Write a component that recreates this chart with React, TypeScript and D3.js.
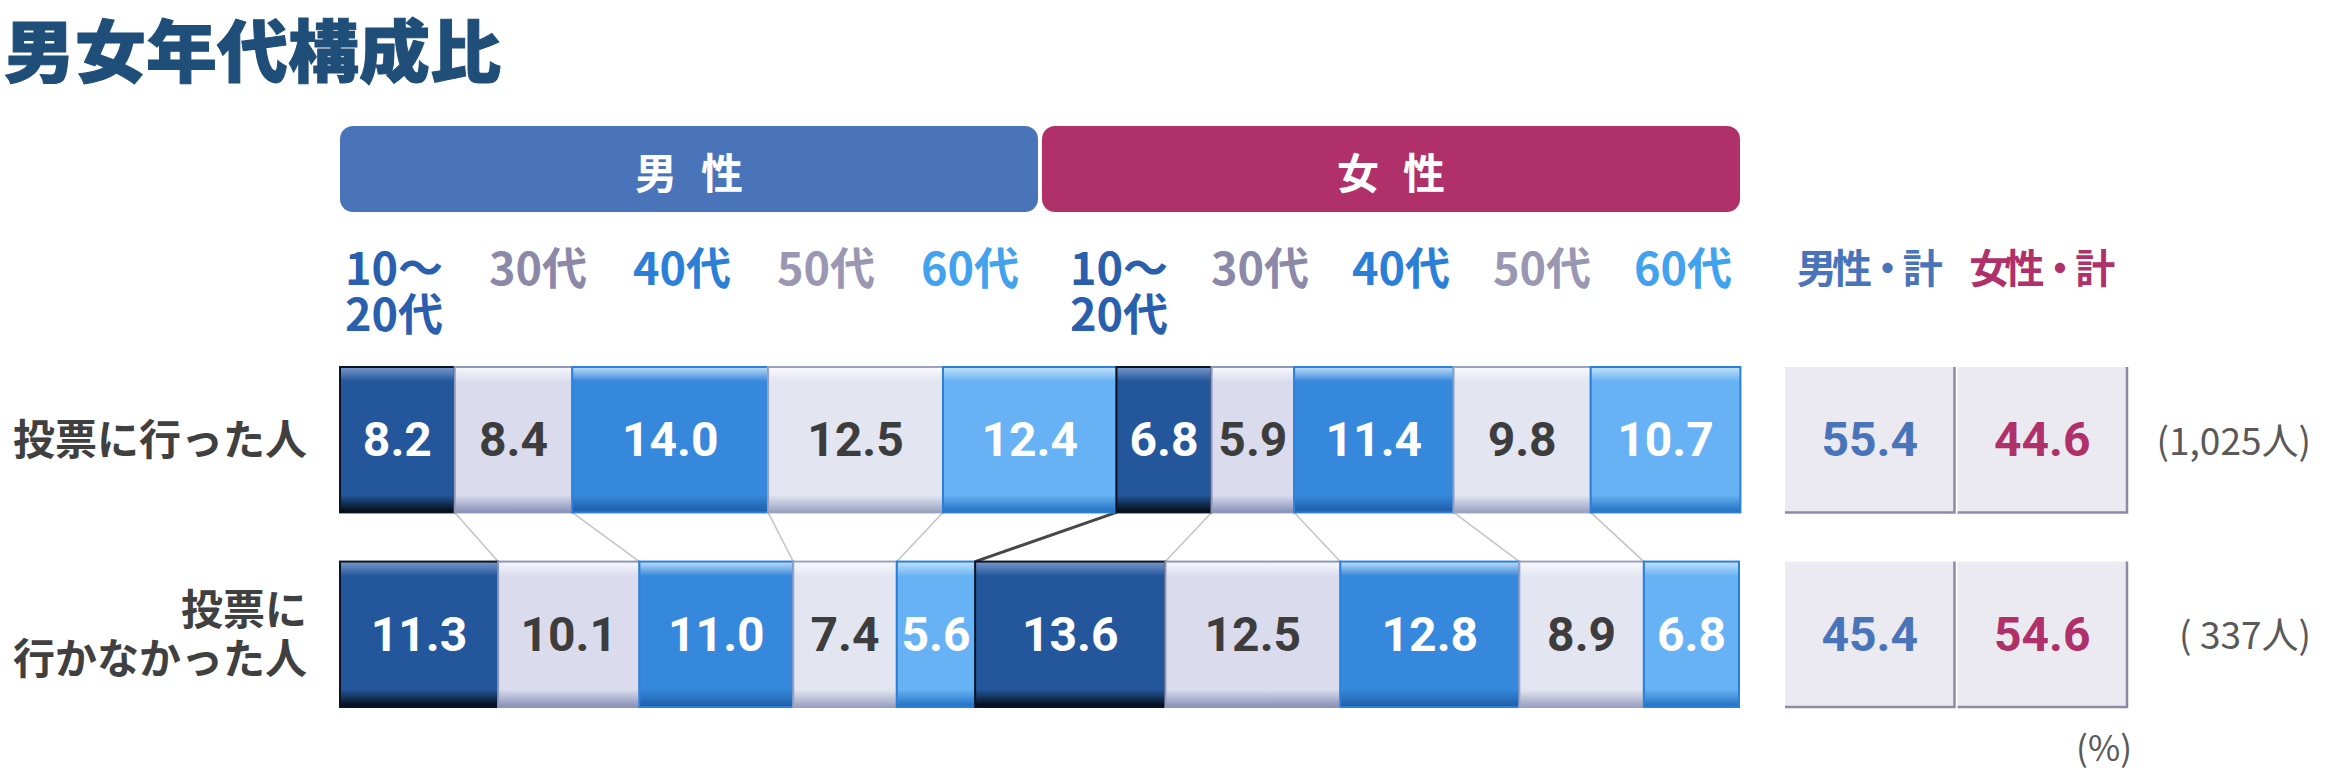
import * as React from 'react';
import * as d3 from 'd3';

// 男女年代構成比 — stacked share of voters / non-voters by sex and age

const title = '男女年代構成比';
const genders = ['男性', '女性'];
const genderHeaders = ['男性', '女性'];
const ageGroups = ['10～20代', '30代', '40代', '50代', '60代'];
const ageLabelLines = [['10～', '20代'], ['30代'], ['40代'], ['50代'], ['60代']];
const rowNames = ['投票に行った人', '投票に行かなかった人'];
const rowLabelLines = [['投票に行った人'], ['投票に', '行かなかった人']];

// male 10-20, 30, 40, 50, 60, then female 10-20 ... 60
const voted = [8.2, 8.4, 14.0, 12.5, 12.4, 6.8, 5.9, 11.4, 9.8, 10.7];
const notVoted = [11.3, 10.1, 11.0, 7.4, 5.6, 13.6, 12.5, 12.8, 8.9, 6.8];

const maleTotals = [55.4, 45.4];
const femaleTotals = [44.6, 54.6];
const respondents = ['(1,025人)', '( 337人)'];
const unitLabel = '(%)';

const JP = '"Noto Sans CJK JP", "Noto Sans", sans-serif';
const NUM = 'Roboto, "Noto Sans", sans-serif';

const ageStyles = [
    { top: '#7898cc', base: '#23569b', bottom: '#03080f', border: '#0a1424', text: '#ffffff', label: '#2a5fae' },
    { top: '#f8f8fc', base: '#dadcee', bottom: '#8690b6', border: '#8d98b8', text: '#3d3d3d', label: '#8b88a8' },
    { top: '#c0dcf6', base: '#3588dc', bottom: '#1d5ca6', border: '#2b80e0', text: '#ffffff', label: '#2b7fd6' },
    { top: '#fafafd', base: '#e3e5f1', bottom: '#99a1c0', border: '#9aa2c0', text: '#3d3d3d', label: '#9a97b2' },
    { top: '#c4e2fb', base: '#67b2f4', bottom: '#1f6ec0', border: '#2a80d8', text: '#ffffff', label: '#42a2ee' },
];
const genderColors = ['#4a74b9', '#b0306a'];

const App = () => {
    const W = 2333;
    const H = 773;

    const x = d3.scaleLinear().domain([0, 100]).range([340, 1739]);
    const y = d3.scaleBand<string>().domain(rowNames).range([367, 707]).paddingInner(0.2526);
    const bh = y.bandwidth();

    const header = d3.scaleBand<string>().domain(genders).range([340, 1740]).paddingInner(0.0057);
    const labelX = [
        d3.scalePoint<string>().domain(ageGroups).range([394, 970]),
        d3.scalePoint<string>().domain(ageGroups).range([1119, 1683]),
    ];
    const totalX = d3.scaleBand<string>().domain(genders).range([1785, 2127]).paddingInner(0.0175);

    const rows = [voted, notVoted].map((vals, r) => {
        const cum = [0, ...Array.from(d3.cumsum(vals))];
        return vals.map((v, i) => ({ v, i, row: rowNames[r], x0: cum[i], x1: cum[i + 1] }));
    });

    const cumTop = [0, ...Array.from(d3.cumsum(voted))];
    const cumBot = [0, ...Array.from(d3.cumsum(notVoted))];
    const links = d3.range(1, voted.length).map((k) => ({
        k,
        x1: x(cumTop[k]),
        x2: x(cumBot[k]),
    }));

    const totals = [maleTotals, femaleTotals];

    return (
        <svg width={W} height={H} style={{ position: 'absolute', left: 0, top: 0, background: '#fff' }}>
            <defs>
                {ageStyles.map((s, i) => (
                    <linearGradient key={i} id={`age${i}`} x1="0" y1="0" x2="0" y2="1">
                        <stop offset="0" stopColor={s.top} />
                        <stop offset="0.1" stopColor={s.base} />
                        <stop offset="0.88" stopColor={s.base} />
                        <stop offset="1" stopColor={s.bottom} />
                    </linearGradient>
                ))}
            </defs>

            <text x={4} y={47} fontFamily={JP} fontWeight={900} fontSize={68} fill="#1f4e79" dominantBaseline="central"
                stroke="#1f4e79" strokeWidth={1} textLength={497} lengthAdjust="spacingAndGlyphs">
                {title}
            </text>

            {/* gender headers */}
            {genders.map((g, gi) => (
                <g key={g}>
                    <rect x={header(g)} y={126} width={header.bandwidth()} height={86} rx={13} fill={genderColors[gi]} />
                    <text x={header(g)! + header.bandwidth() / 2 + 12} y={170} textAnchor="middle" dominantBaseline="central"
                        fontFamily={JP} fontWeight={700} fontSize={42} fill="#fff" letterSpacing={24}>
                        {genderHeaders[gi]}
                    </text>
                </g>
            ))}

            {/* age labels */}
            {genders.map((g, gi) => ageGroups.map((a, ai) => (
                <text key={g + a} x={labelX[gi](a)} y={265} textAnchor="middle" dominantBaseline="central"
                    fontFamily={JP} fontWeight={700} fontSize={45} fill={ageStyles[ai].label}>
                    {ageLabelLines[ai].map((line, li) => (
                        <tspan key={li} x={labelX[gi](a)} y={265 + li * 46}>{line}</tspan>
                    ))}
                </text>
            )))}

            {/* row labels */}
            {rowNames.map((r, ri) => {
                const lines = rowLabelLines[ri];
                const cy = y(r)! + bh / 2 - 4;
                return (
                    <text key={r} textAnchor="end" dominantBaseline="central" fontFamily={JP} fontWeight={700} fontSize={42} fill="#404040">
                        {lines.map((line, li) => (
                            <tspan key={li} x={307} y={cy + (li - (lines.length - 1) / 2) * 49}>{line}</tspan>
                        ))}
                    </text>
                );
            })}

            {/* connectors */}
            {links.map((l) => (
                <line key={l.k} x1={l.x1} y1={y(rowNames[0])! + bh} x2={l.x2} y2={y(rowNames[1])!}
                    stroke={l.k === ageGroups.length ? '#474747' : '#c4c4c4'}
                    strokeWidth={l.k === ageGroups.length ? 3 : 1.5} />
            ))}

            {/* stacked bars */}
            {rows.map((segs) => segs.map((s) => {
                const st = ageStyles[s.i % ageGroups.length];
                const x0 = x(s.x0);
                const x1 = x(s.x1);
                return (
                    <g key={s.row + s.i}>
                        <rect x={x0} y={y(s.row)} width={x1 - x0} height={bh} fill={`url(#age${s.i % ageGroups.length})`}
                            stroke={st.border} strokeWidth={2} />
                        <text x={(x0 + x1) / 2} y={y(s.row)! + bh / 2} textAnchor="middle" dominantBaseline="central"
                            fontFamily={NUM} fontWeight={700} fontSize={48} fill={st.text}>
                            {s.v.toFixed(1)}
                        </text>
                    </g>
                );
            }))}

            {/* totals */}
            {genders.map((g, gi) => (
                <text key={'h' + g} x={totalX(g)! + totalX.bandwidth() / 2} y={266} textAnchor="middle" dominantBaseline="central"
                    fontFamily={JP} fontWeight={700} fontSize={40} fill={genderColors[gi]}
                    textLength={146} lengthAdjust="spacing">
                    {g}・計
                </text>
            ))}
            {rowNames.map((r, ri) => genders.map((g, gi) => {
                const bx = totalX(g)!;
                const by = y(r)!;
                const bw = totalX.bandwidth();
                return (
                    <g key={r + g}>
                        <rect x={bx} y={by} width={bw} height={bh} fill="#ebeaf1" />
                        <path d={`M${bx},${by + bh} H${bx + bw} V${by}`} fill="none" stroke="#8d8aa8" strokeWidth={2.5} />
                        <text x={bx + bw / 2} y={by + bh / 2} textAnchor="middle" dominantBaseline="central"
                            fontFamily={NUM} fontWeight={700} fontSize={48} fill={genderColors[gi]}>
                            {totals[gi][ri].toFixed(1)}
                        </text>
                    </g>
                );
            }))}

            {/* respondents */}
            {rowNames.map((r, ri) => (
                <text key={'n' + r} x={2311} y={y(r)! + bh / 2 - 1} textAnchor="end" dominantBaseline="central"
                    fontFamily={JP} fontSize={37} fill="#595959">
                    {respondents[ri]}
                </text>
            ))}
            <text x={2132} y={745} textAnchor="end" dominantBaseline="central" fontFamily={JP} fontSize={35} fill="#595959">
                {unitLabel}
            </text>
        </svg>
    );
};

export default App;
